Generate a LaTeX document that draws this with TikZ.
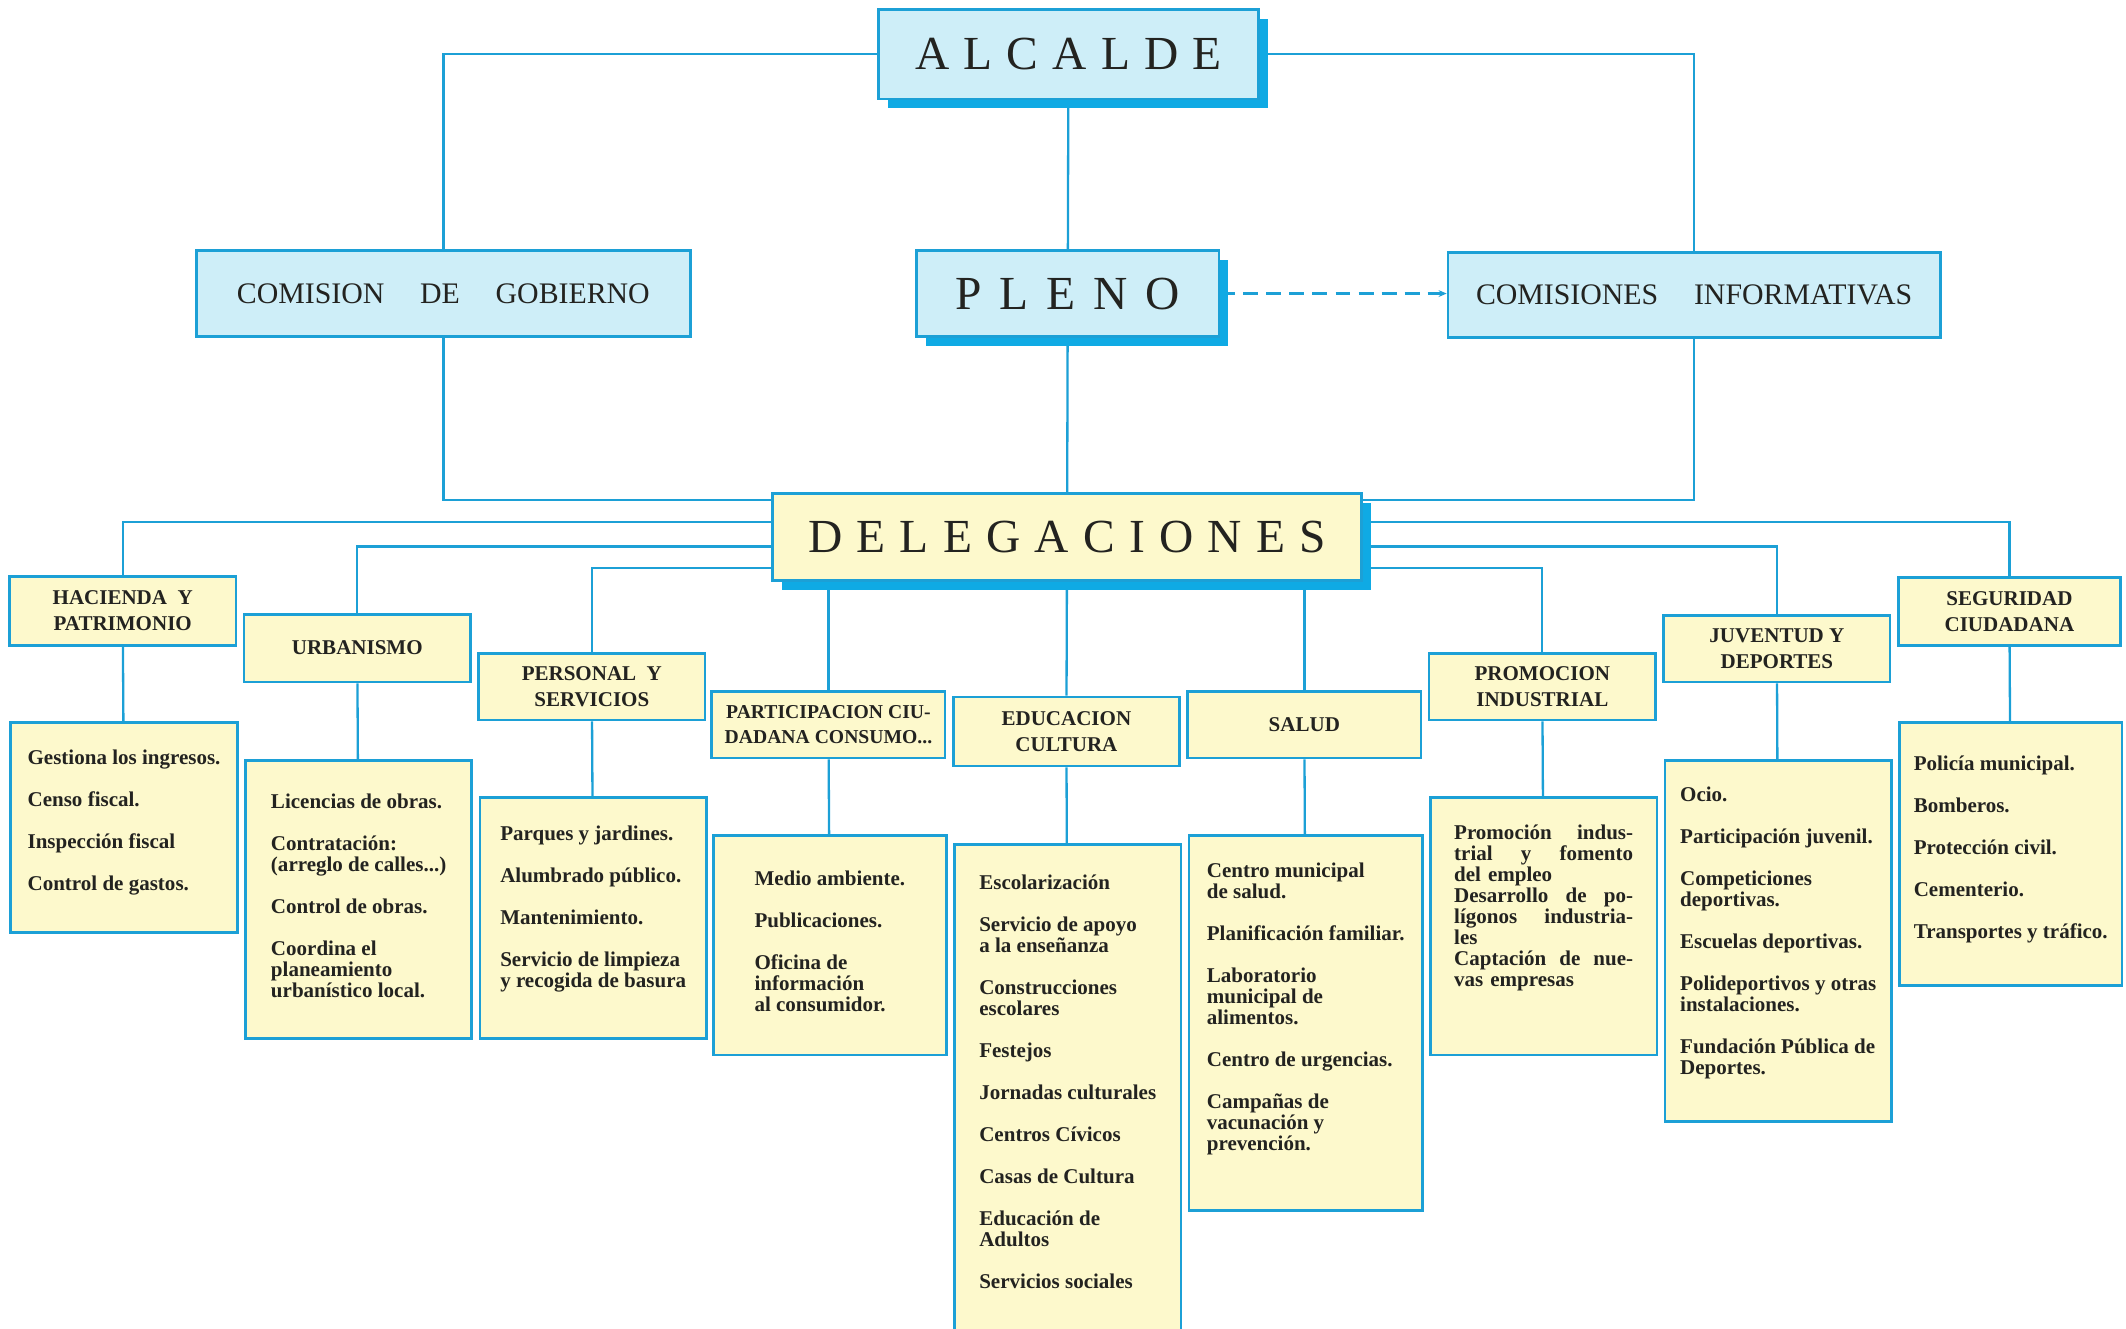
\documentclass[tikz,border=0pt]{standalone}
\usepackage{fontspec}
\setmainfont{Liberation Serif}
\newfontfamily\espaciada[LetterSpace=30]{Liberation Serif}
\newfontfamily\espaciadapleno[LetterSpace=38]{Liberation Serif}
\usetikzlibrary{arrows.meta,calc,shadows,backgrounds}
\definecolor{bleu}{RGB}{28,160,214}
\definecolor{ciel}{RGB}{206,238,248}
\definecolor{ombre}{RGB}{15,170,228}
\definecolor{creme}{RGB}{253,249,204}
\definecolor{encre}{RGB}{35,35,32}

\begin{document}
\begin{tikzpicture}[x=1pt,y=-1pt,organo/.style={draw=bleu,fill=ciel,line width=2pt,text=encre,inner sep=0pt},sombra/.style={drop shadow={shadow xshift=7pt,shadow yshift=-7pt,fill=ombre,opacity=1}},grande/.style={font=\espaciada\fontsize{35}{40}\selectfont},delegacion/.style={draw=bleu,fill=creme,line width=2pt,text=encre,align=center,inner sep=0pt,font=\bfseries\fontsize{15.5}{19.5}\selectfont},funciones/.style={draw=bleu,fill=creme,line width=2pt,anchor=north west,inner sep=0pt},texto/.style={text=encre,align=left,anchor=north,inner sep=0pt,font=\bfseries\fontsize{15.5}{15.5}\selectfont},linea/.style={draw=bleu,line width=1.7pt}]
\useasboundingbox (0,0) rectangle (1568,980);
\node[organo,sombra,grande,minimum width=280pt,minimum height=66pt] (alcalde) at (788,40) {ALCALDE};
\node[organo,minimum width=364pt,minimum height=63pt,font=\fontsize{22}{26}\selectfont] (comision) at (327,216.5) {COMISION\hspace{1.2em}DE\hspace{1.2em}GOBIERNO};
\node[organo,sombra,minimum width=223pt,minimum height=63pt,font=\espaciadapleno\fontsize{35}{40}\selectfont] (pleno) at (787.5,216.5) {PLENO};
\node[organo,minimum width=363pt,minimum height=63pt,font=\fontsize{22}{26}\selectfont] (informativas) at (1249.5,217.5) {COMISIONES\hspace{1.2em}INFORMATIVAS};
\node[organo,sombra,grande,fill=creme,minimum width=434pt,minimum height=64pt] (delegaciones) at (787,396) {DELEGACIONES};
\node[delegacion,minimum width=167pt,minimum height=51pt] (hacienda) at (90.5,450.5) {HACIENDA~ Y\\PATRIMONIO};
\node[delegacion,minimum width=167pt,minimum height=50pt] (urbanismo) at (263.5,478) {URBANISMO};
\node[delegacion,minimum width=167pt,minimum height=49pt] (personal) at (436.5,506.5) {PERSONAL~ Y\\SERVICIOS};
\node[delegacion,minimum width=172pt,minimum height=49pt,font=\bfseries\fontsize{14.5}{19}\selectfont] (participacion) at (611,534.5) {PARTICIPACION CIU-\\DADANA CONSUMO...};
\node[delegacion,minimum width=167pt,minimum height=51pt] (educacion) at (786.5,539.5) {EDUCACION\\CULTURA};
\node[delegacion,minimum width=172pt,minimum height=49pt] (salud) at (962,534.5) {SALUD};
\node[delegacion,minimum width=167pt,minimum height=49pt] (promocion) at (1137.5,506.5) {PROMOCION\\INDUSTRIAL};
\node[delegacion,minimum width=167pt,minimum height=49pt] (juventud) at (1310.5,478.5) {JUVENTUD Y\\DEPORTES};
\node[delegacion,minimum width=164pt,minimum height=50pt] (seguridad) at (1482,451) {SEGURIDAD\\CIUDADANA};
\node[funciones,minimum width=167pt,minimum height=155pt] (fhacienda) at (7,532) {};
\node[funciones,minimum width=167pt,minimum height=205pt] (furbanismo) at (180,560) {};
\node[funciones,minimum width=167pt,minimum height=178pt] (fpersonal) at (353,587) {};
\node[funciones,minimum width=172pt,minimum height=162pt] (fparticipacion) at (525,615) {};
\node[funciones,minimum width=167pt,minimum height=370pt] (feducacion) at (703,622) {};
\node[funciones,minimum width=172pt,minimum height=277pt] (fsalud) at (876,615) {};
\node[funciones,minimum width=167pt,minimum height=190pt] (fpromocion) at (1054,587) {};
\node[funciones,minimum width=167pt,minimum height=266pt] (fjuventud) at (1227,560) {};
\node[funciones,minimum width=164pt,minimum height=194pt] (fseguridad) at (1400,532) {};
\node[texto] (thacienda) at ([yshift=-21pt]fhacienda.north) {Gestiona los ingresos.\\[15.5pt]Censo fiscal.\\[15.5pt]Inspección fiscal\\[15.5pt]Control de gastos.};
\node[texto] (turbanismo) at ([yshift=-25pt]furbanismo.north) {Licencias de obras.\\[15.5pt]Contratación:\\(arreglo de calles...)\\[15.5pt]Control de obras.\\[15.5pt]Coordina el\\planeamiento\\urbanístico local.};
\node[texto] (tpersonal) at ([yshift=-22pt]fpersonal.north) {Parques y jardines.\\[15.5pt]Alumbrado público.\\[15.5pt]Mantenimiento.\\[15.5pt]Servicio de limpieza\\y recogida de basura};
\node[texto] (tparticipacion) at ([yshift=-27pt]fparticipacion.north) {Medio ambiente.\\[15.5pt]Publicaciones.\\[15.5pt]Oficina de\\información\\al consumidor.};
\node[texto] (teducacion) at ([yshift=-23pt]feducacion.north) {Escolarización\\[15.5pt]Servicio de apoyo\\a la enseñanza\\[15.5pt]Construcciones\\escolares\\[15.5pt]Festejos\\[15.5pt]Jornadas culturales\\[15.5pt]Centros Cívicos\\[15.5pt]Casas de Cultura\\[15.5pt]Educación de\\Adultos\\[15.5pt]Servicios sociales};
\node[texto] (tsalud) at ([yshift=-21pt]fsalud.north) {Centro municipal\\de salud.\\[15.5pt]Planificación familiar.\\[15.5pt]Laboratorio\\municipal de\\alimentos.\\[15.5pt]Centro de urgencias.\\[15.5pt]Campañas de\\vacunación y\\prevención.};
\node[texto,text width=132pt] (tpromocion) at ([yshift=-21pt]fpromocion.north) {Promoción\hfill indus-\\trial\hfill y\hfill fomento\\del empleo\\Desarrollo\hfill de\hfill po-\\lígonos\hfill industria-\\les\\Captación\hfill de\hfill nue-\\vas empresas};
\node[texto] (tjuventud) at ([yshift=-20pt]fjuventud.north) {Ocio.\\[15.5pt]Participación juvenil.\\[15.5pt]Competiciones\\deportivas.\\[15.5pt]Escuelas deportivas.\\[15.5pt]Polideportivos y otras\\instalaciones.\\[15.5pt]Fundación Pública de\\Deportes.};
\node[texto] (tseguridad) at ([yshift=-25pt]fseguridad.north) {Policía municipal.\\[15.5pt]Bomberos.\\[15.5pt]Protección civil.\\[15.5pt]Cementerio.\\[15.5pt]Transportes y tráfico.};
\begin{scope}[on background layer]
\draw[linea] (alcalde) -| (comision);
\draw[linea] (alcalde) -| (informativas);
\draw[linea] (alcalde) -- (pleno);
\draw[linea] (pleno) -- (delegaciones);
\draw[linea,dash pattern=on 11pt off 6pt,-{Stealth[length=6pt,width=5pt]}] (pleno.east) -- (pleno.east -| informativas.west);
\draw[linea] (comision) |- ($(delegaciones.north west)+(0,6)$);
\draw[linea] (informativas) |- ($(delegaciones.north east)+(0,6)$);
\draw[linea] ($(delegaciones.north west)+(0,22)$) -| (hacienda);
\draw[linea] ($(delegaciones.north west)+(0,40)$) -| (urbanismo);
\draw[linea] ($(delegaciones.north west)+(0,56)$) -| (personal);
\draw[linea] ($(delegaciones.north east)+(0,22)$) -| (seguridad);
\draw[linea] ($(delegaciones.north east)+(0,40)$) -| (juventud);
\draw[linea] ($(delegaciones.north east)+(0,56)$) -| (promocion);
\draw[linea] (delegaciones.south -| participacion) -- (participacion);
\draw[linea] (delegaciones) -- (educacion);
\draw[linea] (delegaciones.south -| salud) -- (salud);
\foreach \d in {hacienda,urbanismo,personal,participacion,educacion,salud,promocion,juventud,seguridad}
  \draw[linea] (\d) -- (f\d);
\end{scope}
\end{tikzpicture}
\end{document}
